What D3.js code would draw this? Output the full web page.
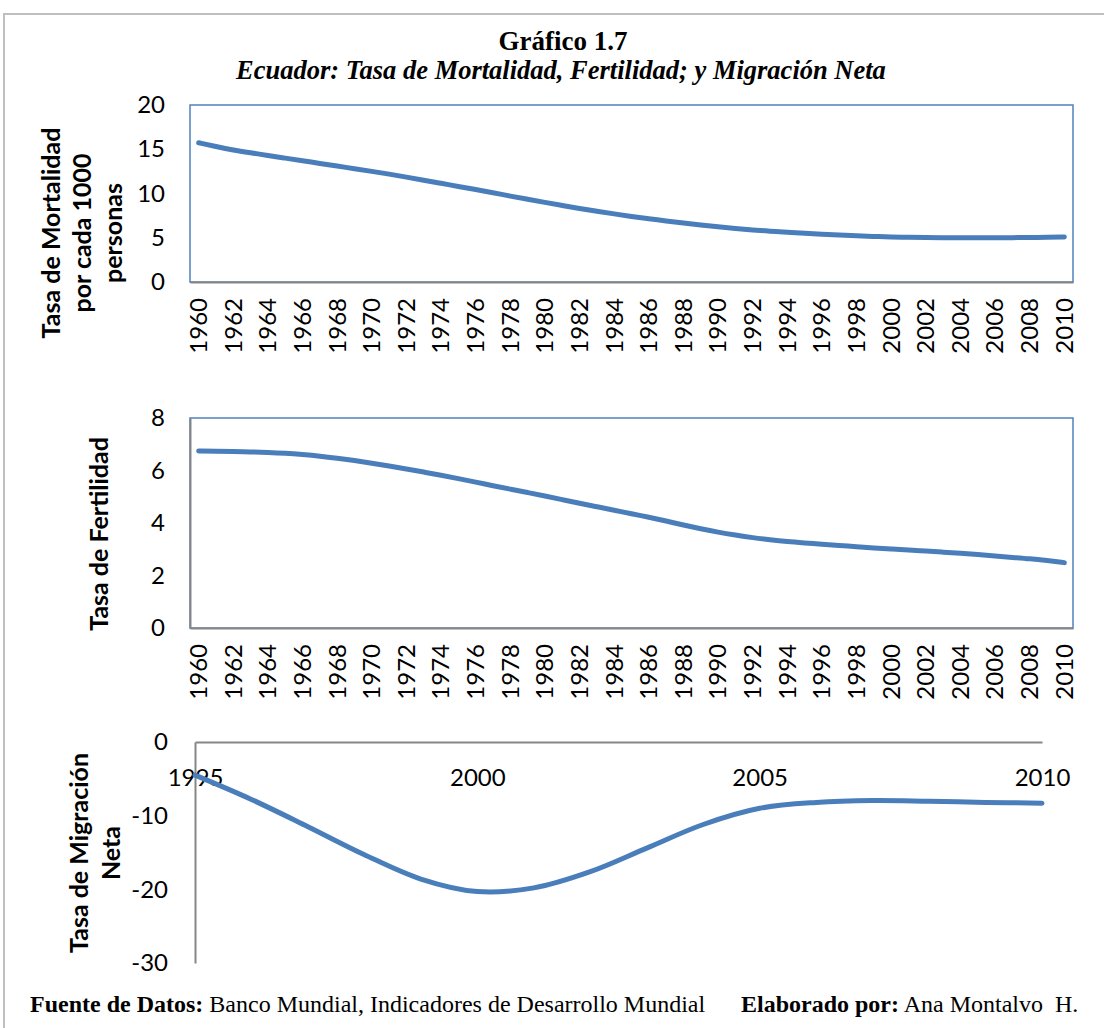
<!DOCTYPE html>
<html>
<head>
<meta charset="utf-8">
<script src="https://cdn.jsdelivr.net/npm/d3@7"></script>
<style>
  body { margin: 0; background: #fff; }
  .tick text { font-family: Lato, sans-serif; font-size: 24px; fill: #000; }
</style>
</head>
<body>
<script>
// Years for the first two panels (category axis)
const years = d3.range(1960, 2011);

// Tasa de Mortalidad por cada 1000 personas, 1960-2010
const mortality = [15.74, 15.3, 14.9, 14.6, 14.3, 14.0, 13.7, 13.4, 13.1, 12.8,
    12.5, 12.2, 11.85, 11.5, 11.15, 10.8, 10.45, 10.1, 9.7, 9.35,
    9.0, 8.65, 8.3, 8.0, 7.7, 7.4, 7.15, 6.9, 6.65, 6.45,
    6.25, 6.05, 5.88, 5.75, 5.6, 5.5, 5.4, 5.3, 5.22, 5.15,
    5.08, 5.04, 5.02, 5.01, 5.0, 5.0, 5.0, 5.01, 5.03, 5.05, 5.08];

// Tasa de Fertilidad, 1960-2010
const fertility = [6.74, 6.73, 6.72, 6.71, 6.69, 6.66, 6.61, 6.55, 6.47, 6.38,
    6.28, 6.17, 6.06, 5.94, 5.82, 5.69, 5.56, 5.42, 5.29, 5.16,
    5.03, 4.89, 4.75, 4.62, 4.49, 4.35, 4.22, 4.08, 3.92, 3.78,
    3.65, 3.54, 3.44, 3.36, 3.29, 3.24, 3.19, 3.14, 3.10, 3.05,
    3.01, 2.97, 2.93, 2.89, 2.85, 2.80, 2.74, 2.69, 2.64, 2.57, 2.49];

// Tasa de Migración Neta, 1995-2010
const migYears = [1995, 1996, 1997, 1998, 1999, 2000, 2001, 2002,
    2003, 2004, 2005, 2006, 2007, 2008, 2009, 2010];
const migration = [-4.5, -7.8, -11.5, -15.3, -18.6, -20.3, -19.8, -17.6,
    -14.4, -11.2, -9.0, -8.2, -7.95, -8.05, -8.2, -8.3];

const mortTicks = [0, 5, 10, 15, 20];
const fertTicks = [0, 2, 4, 6, 8];
const migTicks = [0, -10, -20, -30];
const migLabels = [1995, 2000, 2005, 2010];

const lineColor = "#4a7ebb";
const axisGray = "#868686";
const frameBlue = "#4f81bd";

const svg = d3.select("body")
    .append("svg")
    .attr("width", 1104)
    .attr("height", 1028);

svg.append("rect")
    .attr("width", 1104).attr("height", 1028)
    .attr("fill", "#fff");

// outer frame (goes past the right and bottom edges)
svg.append("rect")
    .attr("x", 4).attr("y", 14)
    .attr("width", 1110).attr("height", 1030)
    .attr("fill", "none")
    .attr("stroke", "#bfbfbf")
    .attr("stroke-width", 2);

// Titles
svg.append("text")
    .attr("x", 563).attr("y", 50)
    .attr("text-anchor", "middle")
    .style("font-family", "'Liberation Serif', 'Times New Roman', serif")
    .style("font-weight", "bold")
    .style("font-size", "27px")
    .text("Gráfico 1.7");

svg.append("text")
    .attr("x", 561).attr("y", 79)
    .attr("text-anchor", "middle")
    .style("font-family", "'Liberation Serif', 'Times New Roman', serif")
    .style("font-weight", "bold")
    .style("font-style", "italic")
    .style("font-size", "26.5px")
    .text("Ecuador: Tasa de Mortalidad, Fertilidad; y Migración Neta");

// Axis title helper: rotated, several lines
function axisTitle(lines, xs, cy) {
    lines.forEach(function(t, i) {
        svg.append("text")
            .attr("transform", "translate(" + xs[i] + "," + cy + ") rotate(-90)")
            .attr("text-anchor", "middle")
            .style("font-family", "Lato, sans-serif")
            .style("font-weight", "bold")
            .style("font-size", "25px")
            .text(t);
    });
}

// plain hyphen minus like the original
const fmt = d => String(d);

// Panels with category axis (mortality, fertility)
function yearPanel(values, top, bottom, yMax, ticks, grayLeft) {
    const x = d3.scaleBand().domain(years).range([190, 1073]);
    const y = d3.scaleLinear().domain([0, yMax]).range([bottom, top]);

    svg.append("rect")
        .attr("x", 190).attr("y", top)
        .attr("width", 1073 - 190).attr("height", bottom - top)
        .attr("fill", "none")
        .attr("stroke", frameBlue)
        .attr("stroke-width", 1.5);

    // x axis
    const gx = svg.append("g")
        .attr("transform", "translate(0," + bottom + ")")
        .call(d3.axisBottom(x)
            .tickValues(years.filter((d, i) => i % 2 === 0))
            .tickSize(0));
    gx.select(".domain").attr("stroke", axisGray).attr("stroke-width", 2);
    gx.selectAll(".tick text")
        .attr("transform", "rotate(-90)")
        .attr("text-anchor", "end")
        .attr("x", -16)
        .attr("y", 0)
        .attr("dy", "0.35em");

    // y axis
    const gy = svg.append("g")
        .attr("transform", "translate(190,0)")
        .call(d3.axisLeft(y).tickValues(ticks).tickFormat(fmt).tickSize(0).tickPadding(25));
    if (grayLeft) {
        gy.select(".domain").attr("stroke", axisGray).attr("stroke-width", 2);
    } else {
        gy.select(".domain").remove();
    }

    const line = d3.line()
        .x((d, i) => x(years[i]) + x.bandwidth() / 2)
        .y(d => y(d))
        .curve(d3.curveBasis);

    svg.append("path")
        .datum(values)
        .attr("fill", "none")
        .attr("stroke", lineColor)
        .attr("stroke-width", 5)
        .attr("stroke-linecap", "round")
        .attr("d", line);
}

yearPanel(mortality, 105, 282, 20, mortTicks, false);
axisTitle(["Tasa de Mortalidad", "por cada 1000", "personas"], [60, 91, 122], 233);

yearPanel(fertility, 418, 628, 8, fertTicks, true);
axisTitle(["Tasa de Fertilidad"], [108], 534);

// Migration panel
const xm = d3.scalePoint().domain(migYears).range([195, 1042]);
const ym = d3.scaleLinear().domain([-30, 0]).range([963, 742]);

const gxm = svg.append("g")
    .attr("transform", "translate(0,742)")
    .call(d3.axisBottom(xm).tickValues(migLabels).tickSize(0).tickPadding(27));
gxm.select(".domain").attr("stroke", axisGray).attr("stroke-width", 2);

const gym = svg.append("g")
    .attr("transform", "translate(195,0)")
    .call(d3.axisLeft(ym).tickValues(migTicks).tickFormat(fmt).tickSize(0).tickPadding(27));
gym.select(".domain").attr("stroke", axisGray).attr("stroke-width", 2);

const migLine = d3.line()
    .x((d, i) => xm(migYears[i]))
    .y(d => ym(d))
    .curve(d3.curveCatmullRom);

svg.append("path")
    .datum(migration)
    .attr("fill", "none")
    .attr("stroke", lineColor)
    .attr("stroke-width", 5)
    .attr("stroke-linecap", "round")
    .attr("d", migLine);

axisTitle(["Tasa de Migración", "Neta"], [88, 120], 853);

// Footer
const foot1 = svg.append("text")
    .attr("x", 30).attr("y", 1012)
    .style("font-family", "'Liberation Serif', 'Times New Roman', serif")
    .style("font-size", "24px");
foot1.append("tspan").style("font-weight", "bold").text("Fuente de Datos:");
foot1.append("tspan").text(" Banco Mundial, Indicadores de Desarrollo Mundial");

const foot2 = svg.append("text")
    .attr("x", 741).attr("y", 1012)
    .style("font-family", "'Liberation Serif', 'Times New Roman', serif")
    .style("font-size", "24px");
foot2.append("tspan").style("font-weight", "bold").text("Elaborado por:");
foot2.append("tspan").text(" Ana Montalvo\u00a0 H.");
</script>
</body>
</html>
